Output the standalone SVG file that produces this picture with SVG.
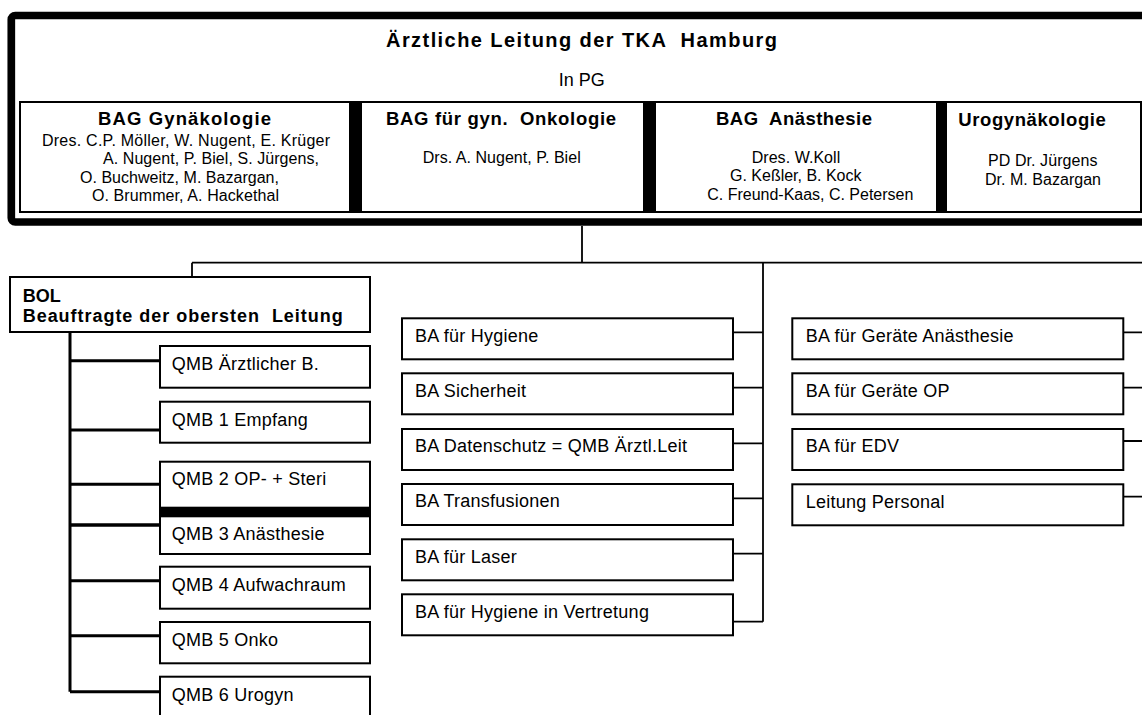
<svg xmlns="http://www.w3.org/2000/svg" width="1142" height="715" viewBox="0 0 1142 715">
<style>
text{font-family:"Liberation Sans",Arial,sans-serif;fill:#000}
.b{font-weight:bold}
.h{font-size:18.5px;font-weight:bold}
.hb{font-size:18px;font-weight:bold}
.n{font-size:16px}
.r{font-size:18px;letter-spacing:0.25px}
.box{fill:#fff;stroke:#000;stroke-width:2}
.sep{fill:#000}
.c{stroke:#000;fill:none;stroke-width:1.8}
.ck{stroke:#000;fill:none;stroke-width:3}
</style>
<rect width="1142" height="715" fill="#fff"/>

<g id="leitung">
<rect x="11.3" y="15.5" width="1150" height="206.5" rx="4" fill="#fff" stroke="#000" stroke-width="7.7"/>
<text class="b" x="386" y="47" font-size="20" textLength="391" xml:space="preserve">Ärztliche Leitung der TKA  Hamburg</text>
<text x="581.7" y="86" font-size="18" text-anchor="middle">In PG</text>
</g>

<g id="bag-gyn">
<rect class="box" x="20" y="102" width="330" height="110"/>
<text class="h" x="98" y="125" textLength="173">BAG Gynäkologie</text>
<text class="n" x="42" y="145.5" textLength="288">Dres. C.P. Möller, W. Nugent, E. Krüger</text>
<text class="n" x="103" y="164" textLength="216">A. Nugent, P. Biel, S. Jürgens,</text>
<text class="n" x="80" y="182.5" textLength="199">O. Buchweitz, M. Bazargan,</text>
<text class="n" x="92" y="201" textLength="187">O. Brummer, A. Hackethal</text>
</g>
<g id="bag-onko">
<rect class="box" x="361" y="102" width="283" height="110"/>
<text class="h" x="386" y="125" textLength="230" xml:space="preserve">BAG für gyn.  Onkologie</text>
<text class="n" x="422.7" y="162.5" textLength="158">Drs. A. Nugent, P. Biel</text>
</g>
<g id="bag-anae">
<rect class="box" x="655" y="102" width="282" height="110"/>
<text class="h" x="716" y="125" textLength="156" xml:space="preserve">BAG  Anästhesie</text>
<text class="n" x="751.7" y="162.5" textLength="88.5">Dres. W.Koll</text>
<text class="n" x="730" y="181" textLength="131.5">G. Keßler, B. Kock</text>
<text class="n" x="707.3" y="199.5" textLength="206">C. Freund-Kaas, C. Petersen</text>
</g>
<g id="urogyn">
<rect class="box" x="946" y="102" width="195" height="110"/>
<text class="h" x="958.3" y="125.5" textLength="147.5">Urogynäkologie</text>
<text class="n" x="988" y="166" textLength="109.5">PD Dr. Jürgens</text>
<text class="n" x="985" y="184.5" textLength="116">Dr. M. Bazargan</text>
</g>
<g id="separators">
<rect class="sep" x="349" y="101" width="12" height="112"/>
<rect class="sep" x="643.5" y="101" width="11.5" height="112"/>
<rect class="sep" x="936" y="101" width="10" height="112"/>
</g>

<g id="connectors">
<path class="c" d="M582 226V262.7M192 262.7H1142M192 262.7V277M763 262.7V621.7"/>
<path class="c" d="M733 332.3H763M733 387.7H763M733 443.3H763M733 498.3H763M733 553.7H763M733 621.7H763"/>
<path class="c" d="M1123 332.3H1142M1123 387.7H1142M1123 441H1142M1123 496.7H1142"/>
<path class="ck" d="M70 331.7V691.7M70 360.7H160M70 430H160M70 484.3H160M70 580.7H160M70 635.7H160M70 691.7H160"/>
<path stroke="#000" stroke-width="3.6" fill="none" d="M70 525H160"/>
</g>

<g id="bol">
<rect class="box" x="10" y="277" width="360" height="55"/>
<text class="hb" x="22.7" y="301.7">BOL</text>
<text class="hb" x="22.7" y="321.7" textLength="320" xml:space="preserve">Beauftragte der obersten  Leitung</text>
</g>

<g id="qmb-aerztl"><rect class="box" x="160" y="346" width="210" height="41.7"/><text class="r" x="171.7" y="370">QMB Ärztlicher B.</text></g>
<g id="qmb-1"><rect class="box" x="160" y="401.7" width="210" height="41"/><text class="r" x="171.7" y="425.5">QMB 1 Empfang</text></g>
<g id="qmb-2"><rect class="box" x="160" y="461.7" width="210" height="50"/><text class="r" x="171.7" y="485.3">QMB 2 OP- + Steri</text></g>
<g id="qmb-3"><rect class="box" x="160" y="512" width="210" height="42"/><text class="r" x="171.7" y="540">QMB 3 Anästhesie</text></g>
<rect class="sep" x="159" y="506.7" width="212" height="10.6"/>
<g id="qmb-4"><rect class="box" x="160" y="566.7" width="210" height="42"/><text class="r" x="171.7" y="590.7">QMB 4 Aufwachraum</text></g>
<g id="qmb-5"><rect class="box" x="160" y="622" width="210" height="41.3"/><text class="r" x="171.7" y="645.7">QMB 5 Onko</text></g>
<g id="qmb-6"><rect class="box" x="160" y="676.7" width="210" height="50"/><text class="r" x="171.7" y="700.7">QMB 6 Urogyn</text></g>

<g id="ba-hygiene"><rect class="box" x="402" y="318.3" width="331" height="41"/><text class="r" x="415" y="341.7">BA für Hygiene</text></g>
<g id="ba-sicherheit"><rect class="box" x="402" y="373.3" width="331" height="41"/><text class="r" x="415" y="396.7">BA Sicherheit</text></g>
<g id="ba-datenschutz"><rect class="box" x="402" y="429" width="331" height="41"/><text class="r" x="415" y="452.4">BA Datenschutz = QMB Ärztl.Leit</text></g>
<g id="ba-transfusionen"><rect class="box" x="402" y="484" width="331" height="41"/><text class="r" x="415" y="507.4">BA Transfusionen</text></g>
<g id="ba-laser"><rect class="box" x="402" y="539.3" width="331" height="41"/><text class="r" x="415" y="562.7">BA für Laser</text></g>
<g id="ba-hygiene-vertr"><rect class="box" x="402" y="594.3" width="331" height="41"/><text class="r" x="415" y="617.7">BA für Hygiene in Vertretung</text></g>

<g id="ba-geraete-anae"><rect class="box" x="792.3" y="318.3" width="331" height="41"/><text class="r" x="805.7" y="341.7">BA für Geräte Anästhesie</text></g>
<g id="ba-geraete-op"><rect class="box" x="792.3" y="373.3" width="331" height="41"/><text class="r" x="805.7" y="396.7">BA für Geräte OP</text></g>
<g id="ba-edv"><rect class="box" x="792.3" y="429" width="331" height="41"/><text class="r" x="805.7" y="452.4">BA für EDV</text></g>
<g id="leitung-personal"><rect class="box" x="792.3" y="484.3" width="331" height="41"/><text class="r" x="805.7" y="507.7">Leitung Personal</text></g>
</svg>
